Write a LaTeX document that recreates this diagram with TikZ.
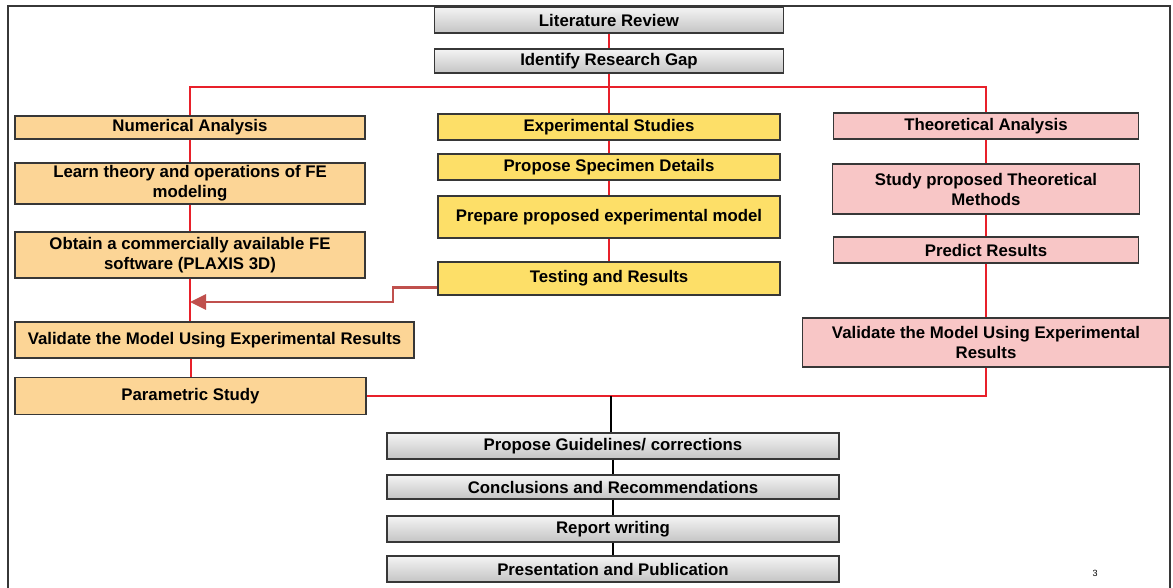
\documentclass[tikz,border=0pt]{standalone}
\usepackage{fontspec}
\setmainfont{Liberation Sans}
\usepackage{tikz}
\usetikzlibrary{arrows.meta, positioning}
\definecolor{boxline}{RGB}{55,55,55}
\definecolor{flowred}{RGB}{232,32,42}
\definecolor{backred}{RGB}{192,80,77}
\definecolor{numfill}{RGB}{252,213,150}
\definecolor{expfill}{RGB}{253,223,104}
\definecolor{thefill}{RGB}{248,198,198}
\definecolor{graytop}{RGB}{244,244,244}
\definecolor{graybot}{RGB}{196,196,196}

\begin{document}
\begin{tikzpicture}[x=1pt, y=-1pt,
  box/.style={draw=boxline, line width=1.4pt, inner sep=0pt, align=center,
    font=\bfseries\fontsize{16.8}{20}\selectfont},
  graybox/.style={box, top color=graytop, bottom color=graybot},
  numbox/.style={box, fill=numfill, minimum width=350},
  expbox/.style={box, fill=expfill, minimum width=342},
  thebox/.style={box, fill=thefill, minimum width=305},
  redline/.style={draw=flowred, line width=2pt},
  blackline/.style={draw=black, line width=2pt},
  fbarrow/.style={draw=backred, line width=2.7pt, -{Triangle[length=16pt, width=15pt]}}]
\useasboundingbox (0,0) rectangle (1173,588);
\draw[boxline, line width=1.4pt] (8,588) -- (8,6) -- (1170,6) -- (1170,588);

\node[graybox, minimum width=349, minimum height=26] (litrev) at (609,20) {Literature Review};
\node[graybox, minimum width=349, minimum height=24] (gap) at (609,61) {Identify Research Gap};

\node[numbox, minimum height=23] (numan) at (190,127.5) {Numerical Analysis};
\node[numbox, minimum height=41] (learn) at (190,183.5) {Learn theory and operations of FE\\modeling};
\node[numbox, minimum height=46] (obtain) at (190,255) {Obtain a commercially available FE\\software (PLAXIS 3D)};
\node[box, fill=numfill, minimum width=399, minimum height=36] (numval) at (214.5,340) {Validate the Model Using Experimental Results};
\node[numbox, minimum width=351, minimum height=37] (param) at (190.5,396) {Parametric Study};

\node[expbox, minimum height=26] (expst) at (609,127) {Experimental Studies};
\node[expbox, minimum height=26] (spec) at (609,167) {Propose Specimen Details};
\node[expbox, minimum height=42] (prep) at (609,217) {Prepare proposed experimental model};
\node[expbox, minimum height=33] (test) at (609,278.5) {Testing and Results};

\node[thebox, minimum height=26] (theo) at (986,126) {Theoretical Analysis};
\node[thebox, minimum width=307, minimum height=50] (method) at (986,189) {Study proposed Theoretical\\Methods};
\node[thebox, minimum height=26] (predict) at (986,250) {Predict Results};
\node[thebox, minimum width=367, minimum height=49] (theoval) at (986,342.5) {Validate the Model Using Experimental\\Results};

\node[graybox, minimum width=452, minimum height=26] (guide) at (613,446) {Propose Guidelines/ corrections};
\node[graybox, minimum width=452, minimum height=24] (concl) at (613,487) {Conclusions and Recommendations};
\node[graybox, minimum width=452, minimum height=26] (report) at (613,529) {Report writing};
\node[graybox, minimum width=452, minimum height=26] (publ) at (613,569) {Presentation and Publication};

\node[font=\fontsize{9}{10}\selectfont] (pageno) at (1095,573) {3};

\coordinate (bus) at (609,87);
\coordinate (fbend) at (393,302);
\draw[redline] (litrev.south) -- (gap.north);
\draw[redline] (gap.south) -- (expst.north);
\draw[redline] (numan.north) |- (bus) -| (theo.north);
\draw[redline] (numan.south) -- (learn.north);
\draw[redline] (learn.south) -- (obtain.north);
\draw[redline] (obtain.south) -- (obtain.south |- numval.north);
\draw[redline] (param.north |- numval.south) -- (param.north);
\draw[redline] (expst.south) -- (spec.north);
\draw[redline] (spec.south) -- (prep.north);
\draw[redline] (prep.south) -- (test.north);
\draw[redline] (theo.south) -- (method.north);
\draw[redline] (method.south) -- (predict.north);
\draw[redline] (predict.south) -- (theoval.north);
\draw[redline] (theoval.south) |- (param.east);
\draw[blackline] ([xshift=-2pt]guide.north |- param.east) -- ([xshift=-2pt]guide.north);
\draw[blackline] (guide.south) -- (concl.north);
\draw[blackline] (concl.south) -- (report.north);
\draw[blackline] (report.south) -- (publ.north);
\draw[fbarrow] ([yshift=-9pt]test.west) -| (fbend) -- (fbend -| obtain.south);
\end{tikzpicture}
\end{document}
